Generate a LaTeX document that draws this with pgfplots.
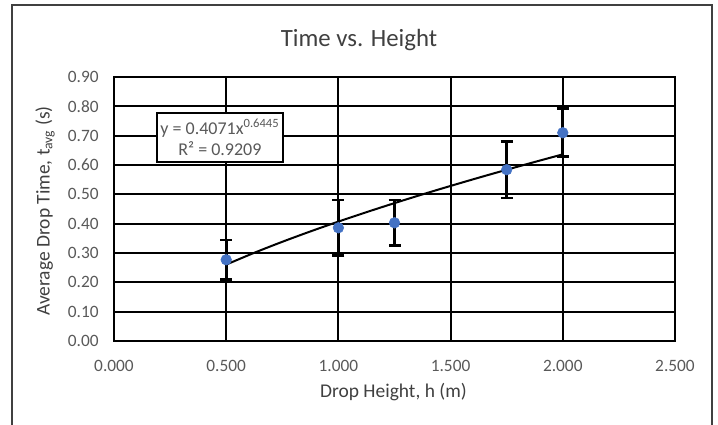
\documentclass[border=0pt]{standalone}
\usepackage{pgfplots}
\pgfplotsset{compat=1.18}
\usepackage{fontspec}
\setmainfont{Carlito}
\definecolor{tickgray}{HTML}{595959}
\definecolor{titlegray}{HTML}{404040}
\definecolor{mblue}{HTML}{4472C4}
\begin{document}
\begin{tikzpicture}[x=1pt,y=1pt]
\useasboundingbox (-85.5,-63) rectangle (453,255.75);
\draw[line width=1.4pt, color=black!75] (-76.5,252) rectangle (448.5,-75);
\begin{axis}[
  at={(0,0)}, anchor=south west,
  scale only axis, width=420.75pt, height=198pt,
  xmin=0, xmax=2.5, ymin=0, ymax=0.9,
  xtick={0,0.5,1,1.5,2,2.5},
  ytick={0,0.1,0.2,0.3,0.4,0.5,0.6,0.7,0.8,0.9},
  grid=major,
  major grid style={black, line width=1.6pt},
  axis line style={black, line width=1.6pt},
  tick style={draw=none},
  /pgf/number format/assume math mode=true,
  tick label style={font=\fontsize{13}{15}\selectfont, text=tickgray},
  x tick label style={/pgf/number format/.cd, fixed, fixed zerofill, precision=3, /tikz/yshift=-11pt},
  y tick label style={/pgf/number format/.cd, fixed, fixed zerofill, precision=2, /tikz/xshift=-8pt},
  clip=false,
]
\addplot[only marks, mark=*, mark size=4pt, mark options={fill=mblue, draw=mblue},
  error bars/.cd, y dir=both, y explicit,
  error bar style={black, line width=2pt},
  error mark options={black, line width=2pt, mark size=4.5pt, rotate=90}]
  table[x=x, y=y, y error=e] {
x     y      e
0.50  0.277  0.067
1.00  0.386  0.095
1.25  0.403  0.078
1.75  0.584  0.096
2.00  0.710  0.082
};
\addplot[black, line width=1.5pt, smooth] coordinates {
(0.500,0.2605) (0.625,0.3007) (0.750,0.3382) (0.875,0.3735) (1.000,0.4071)
(1.125,0.4392) (1.250,0.4701) (1.375,0.4999) (1.500,0.5287) (1.625,0.5567)
(1.750,0.5839) (1.875,0.6104) (2.000,0.6364)
};
\node[draw=black, line width=1.3pt, fill=white, text=tickgray, align=center,
  minimum width=94.5pt, minimum height=36.75pt, inner sep=1pt,
  font=\fontsize{13.5}{16}\selectfont]
  at (axis cs:0.472,0.694) {y = 0.4071x\textsuperscript{0.6445}\\R² = 0.9209};
\end{axis}
\node[font=\fontsize{18.6}{22}\selectfont, text=titlegray] at (183.75,225.75) {Time vs. Height};
\node[font=\fontsize{14.6}{17}\selectfont, text=titlegray] at (209.6,-38.25) {Drop Height, h (m)};
\node[font=\fontsize{14.6}{17}\selectfont, text=titlegray, rotate=90] at (-51.75,97.5) {Average Drop Time, t\textsubscript{avg} (s)};
\end{tikzpicture}
\end{document}
